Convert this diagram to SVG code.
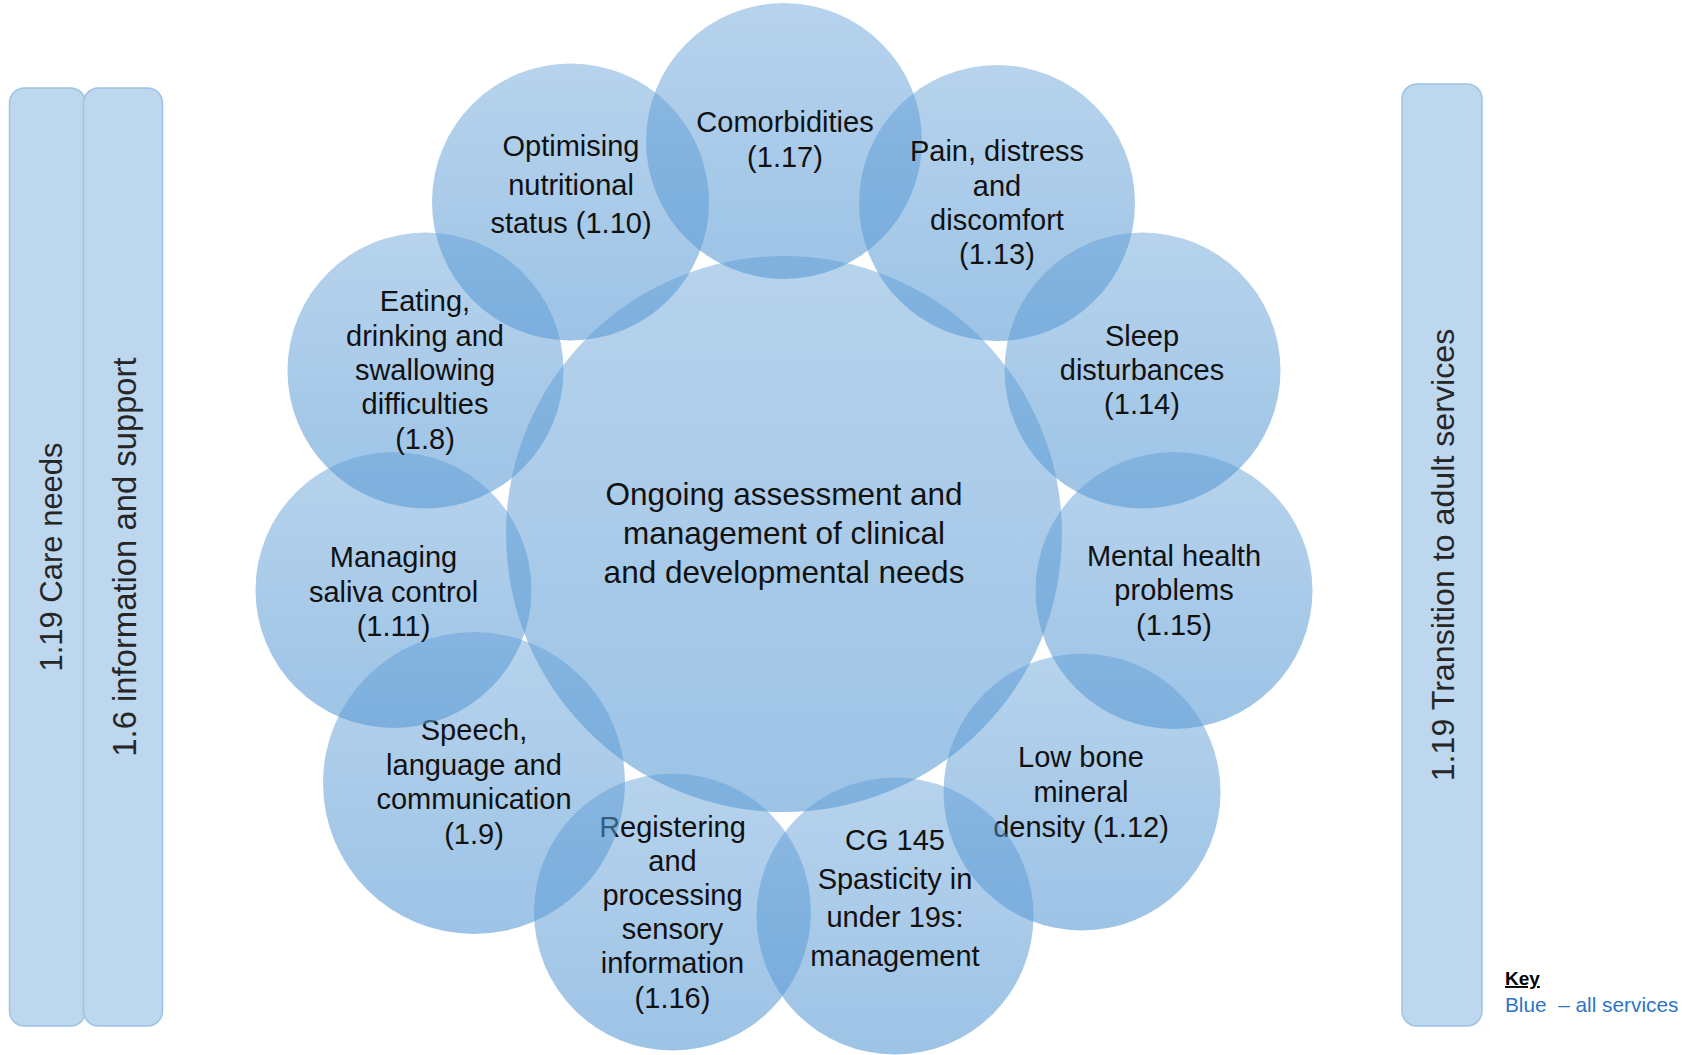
<svg xmlns="http://www.w3.org/2000/svg" width="1682" height="1055" viewBox="0 0 1682 1055">
<defs>
<linearGradient id="cg" x1="0" y1="0" x2="0" y2="1">
<stop offset="0" stop-color="#5b9bd5" stop-opacity="0.44"/>
<stop offset="1" stop-color="#5b9bd5" stop-opacity="0.6"/>
</linearGradient>
</defs>
<style>
.c{fill:url(#cg);}
.t{font-family:"Liberation Sans",Arial,sans-serif;font-size:29px;fill:#111;text-anchor:middle;}
.tc{font-family:"Liberation Sans",Arial,sans-serif;font-size:31.5px;fill:#111;text-anchor:middle;}
.bar{fill:#bdd7ee;stroke:#9dc3e6;stroke-width:1.5;}
.bt{font-family:"Liberation Sans",Arial,sans-serif;font-size:31px;fill:#262626;text-anchor:middle;}
.key{font-family:"Liberation Sans",Arial,sans-serif;font-size:20.8px;}
</style>
<rect width="1682" height="1055" fill="#ffffff"/>

<g id="bar-care-needs">
<rect class="bar" x="9.5" y="88" width="76" height="938" rx="15"/>
<text class="bt" transform="translate(62,557) rotate(-90)">1.19 Care needs</text>
</g>
<g id="bar-information-support">
<rect class="bar" x="83.5" y="88" width="79" height="938" rx="15"/>
<text class="bt" transform="translate(136,557) rotate(-90)" style="font-size:32.8px">1.6 information and support</text>
</g>
<g id="bar-transition">
<rect class="bar" x="1402" y="84" width="80" height="942" rx="15"/>
<text class="bt" transform="translate(1454,555) rotate(-90)" style="font-size:32.2px">1.19 Transition to adult services</text>
</g>

<g id="node-center">
<circle class="c" cx="784" cy="534" r="278"/>
<text class="tc" x="784" y="505">Ongoing assessment and</text>
<text class="tc" x="784" y="544">management of clinical</text>
<text class="tc" x="784" y="583">and developmental needs</text>
</g>
<g id="node-comorbidities">
<circle class="c" cx="784" cy="141" r="138"/>
<text class="t" x="785" y="132">Comorbidities</text>
<text class="t" x="785" y="167">(1.17)</text>
</g>
<g id="node-pain">
<circle class="c" cx="997" cy="203" r="138"/>
<text class="t" x="997" y="161">Pain, distress</text>
<text class="t" x="997" y="195.5">and</text>
<text class="t" x="997" y="230">discomfort</text>
<text class="t" x="997" y="264">(1.13)</text>
</g>
<g id="node-sleep">
<circle class="c" cx="1142.5" cy="370.5" r="138"/>
<text class="t" x="1142" y="345.5">Sleep</text>
<text class="t" x="1142" y="380">disturbances</text>
<text class="t" x="1142" y="414">(1.14)</text>
</g>
<g id="node-mental-health">
<circle class="c" cx="1174" cy="590.5" r="138.5"/>
<text class="t" x="1174" y="566">Mental health</text>
<text class="t" x="1174" y="600">problems</text>
<text class="t" x="1174" y="634.5">(1.15)</text>
</g>
<g id="node-low-bone">
<circle class="c" cx="1082" cy="792" r="138.5"/>
<text class="t" x="1081" y="767">Low bone</text>
<text class="t" x="1081" y="802">mineral</text>
<text class="t" x="1081" y="836.5">density (1.12)</text>
</g>
<g id="node-cg145">
<circle class="c" cx="895" cy="916" r="138.5"/>
<text class="t" x="895" y="850">CG 145</text>
<text class="t" x="895" y="888.5">Spasticity in</text>
<text class="t" x="895" y="927">under 19s:</text>
<text class="t" x="895" y="966">management</text>
</g>
<g id="node-registering">
<circle class="c" cx="672.5" cy="912" r="138.5"/>
<text class="t" x="672.5" y="837">Registering</text>
<text class="t" x="672.5" y="870.5">and</text>
<text class="t" x="672.5" y="904.5">processing</text>
<text class="t" x="672.5" y="939">sensory</text>
<text class="t" x="672.5" y="973">information</text>
<text class="t" x="672.5" y="1007.5">(1.16)</text>
</g>
<g id="node-speech">
<circle class="c" cx="474" cy="783" r="151"/>
<text class="t" x="474" y="740">Speech,</text>
<text class="t" x="474" y="774.5">language and</text>
<text class="t" x="474" y="809">communication</text>
<text class="t" x="474" y="843.5">(1.9)</text>
</g>
<g id="node-saliva">
<circle class="c" cx="393.5" cy="590" r="138"/>
<text class="t" x="393.5" y="567">Managing</text>
<text class="t" x="393.5" y="601.5">saliva control</text>
<text class="t" x="393.5" y="636">(1.11)</text>
</g>
<g id="node-eating">
<circle class="c" cx="425.5" cy="370.5" r="138"/>
<text class="t" x="425" y="311">Eating,</text>
<text class="t" x="425" y="345.5">drinking and</text>
<text class="t" x="425" y="380">swallowing</text>
<text class="t" x="425" y="414">difficulties</text>
<text class="t" x="425" y="448.5">(1.8)</text>
</g>
<g id="node-nutrition">
<circle class="c" cx="570.5" cy="202" r="138.5"/>
<text class="t" x="571" y="156">Optimising</text>
<text class="t" x="571" y="195">nutritional</text>
<text class="t" x="571" y="233">status (1.10)</text>
</g>

<g id="connectors"/>

<g id="key">
<text class="key" x="1505" y="985" font-weight="bold" text-decoration="underline" fill="#000" style="font-size:19px">Key</text>
<text class="key" x="1505" y="1012" fill="#2f75c5" xml:space="preserve">Blue  – all services</text>
</g>
</svg>
